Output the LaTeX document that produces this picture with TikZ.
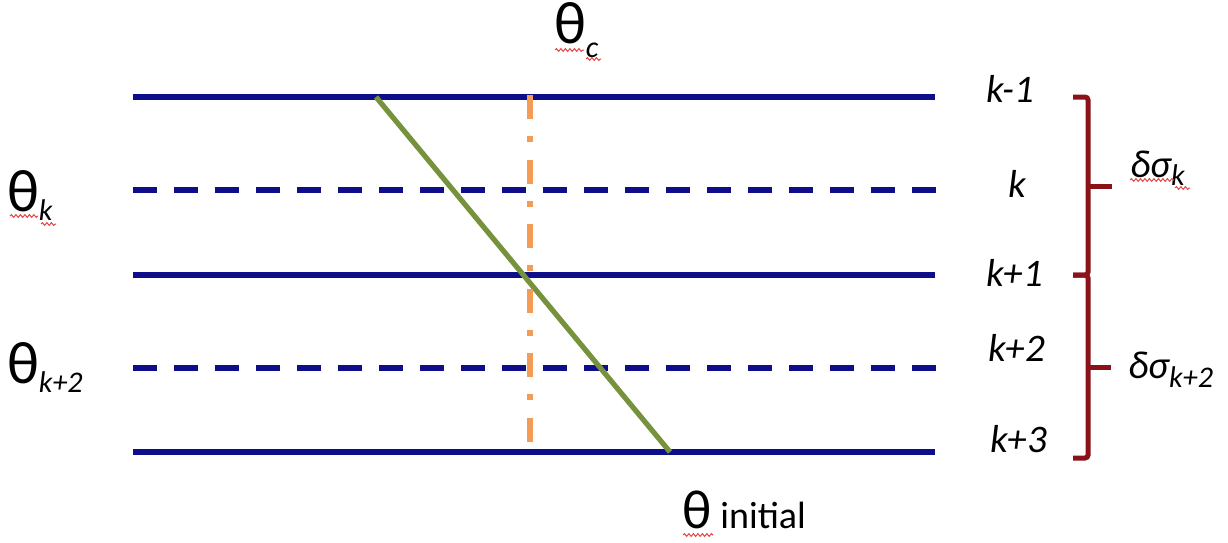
\documentclass[tikz,border=0pt]{standalone}
\usepackage{fontspec}
\setmainfont{Carlito}
\usetikzlibrary{decorations.pathmorphing}
\definecolor{navyline}{RGB}{14,14,138}
\definecolor{olivegreen}{RGB}{118,146,60}
\definecolor{orangeline}{RGB}{244,156,86}
\definecolor{bracketred}{RGB}{138,18,24}
\definecolor{squiggle}{RGB}{228,70,70}
\tikzset{
  level/.style={draw=navyline, line width=5.2pt},
  leveldash/.style={level, dash pattern=on 24pt off 17pt},
  slant/.style={draw=olivegreen, line width=5.2pt},
  crit/.style={draw=orangeline, line width=5.2pt, dash pattern=on 24pt off 17pt on 6pt off 17.5pt},
  brack/.style={draw=bracketred, line width=5pt, line cap=butt},
  lab/.style={inner sep=0pt, outer sep=0pt, font=\fontsize{39}{39}\selectfont\itshape},
  thlab/.style={inner sep=0pt, outer sep=0pt, font=\fontsize{60}{60}\selectfont},
  wavy/.style={draw=squiggle, line width=1pt, decorate, decoration={snake, amplitude=1.4pt, segment length=4.5pt}}
}
\newcommand{\subk}[2]{\raisebox{-#1pt}{\fontsize{30}{30}\selectfont\itshape #2}}
\begin{document}
\begin{tikzpicture}[x=1pt,y=-1pt]
\useasboundingbox (0,0) rectangle (1228,542);
% level lines
\coordinate (l1a) at (133,97);  \coordinate (l1b) at (935,97);
\coordinate (l2a) at (133,190); \coordinate (l2b) at (936,190);
\coordinate (l3a) at (133,275); \coordinate (l3b) at (935,275);
\coordinate (l4a) at (133,368); \coordinate (l4b) at (936,368);
\coordinate (l5a) at (133,452); \coordinate (l5b) at (935,452);
\draw[level] (l1a) -- (l1b);
\draw[leveldash] (l2a) -- (l2b);
\draw[level] (l3a) -- (l3b);
\draw[leveldash] (l4a) -- (l4b);
\draw[level] (l5a) -- (l5b);
% slanted green line
\coordinate (gtop) at (376,97);
\coordinate (gbot) at (670,452);
\draw[slant] (gtop) -- (gbot);
% orange vertical
\coordinate (otop) at (530,95);
\coordinate (obot) at (530,442);
\draw[crit] (otop) -- (obot);
% brackets
\coordinate (b1) at (1073,97);
\coordinate (b2) at (1088,97);
\coordinate (b3) at (1088,275);
\coordinate (b4) at (1073,275);
\coordinate (b5) at (1088,458);
\coordinate (b6) at (1073,458);
\coordinate (m1) at (1088,186);
\coordinate (m1e) at (1112,186);
\coordinate (m2) at (1088,367);
\coordinate (m2e) at (1111,367);
\draw[brack, rounded corners=3pt] (b1) -- (b2) -- (b3) -- (b4);
\draw[brack, rounded corners=3pt] (b4) -- (b3) -- (b5) -- (b6);
\draw[brack] (m1) -- (m1e);
\draw[brack] (m2) -- (m2e);
% right labels
\node[lab, anchor=base west] (km1) at (986,102) {k-1};
\node[lab, anchor=base west] (k0) at (1008,197) {k};
\node[lab, anchor=base west] (kp1) at (986,286) {k+1};
\node[lab, anchor=base west] (kp2) at (988,361) {k+2};
\node[lab, anchor=base west] (kp3) at (990,452) {k+3};
% delta sigma labels
\node[lab, anchor=base west] (dsk) at (1130,177) {δσ\subk{8}{k}};
\node[lab, anchor=base west] (dsk2) at (1128,378) {δσ\subk{9}{k+2}};
% theta labels
\node[thlab, anchor=base west] (thc) at (554,43) {θ\subk{14}{c}};
\node[thlab, anchor=base west] (thk) at (7,211) {θ\subk{9}{k}};
\node[thlab, anchor=base west] (thk2) at (7,383) {θ\subk{9}{k+2}};
\node[thlab, anchor=base west, font=\fontsize{55}{55}\selectfont] (thi) at (682,528) {θ\,{\fontsize{38}{38}\selectfont initial}};
% spell-check squiggles
\coordinate (s1a) at (555,50); \coordinate (s1b) at (584,50);
\coordinate (s2a) at (586,59); \coordinate (s2b) at (601,59);
\coordinate (s3a) at (10,216); \coordinate (s3b) at (38,216);
\coordinate (s4a) at (41,224); \coordinate (s4b) at (56,224);
\coordinate (s5a) at (1130,180); \coordinate (s5b) at (1174,180);
\coordinate (s6a) at (1175,188); \coordinate (s6b) at (1190,188);
\coordinate (s7a) at (683,535); \coordinate (s7b) at (713,535);
\foreach \a/\b in {s1a/s1b,s2a/s2b,s3a/s3b,s4a/s4b,s5a/s5b,s6a/s6b,s7a/s7b}
  \draw[wavy] (\a) -- (\b);
\end{tikzpicture}
\end{document}
